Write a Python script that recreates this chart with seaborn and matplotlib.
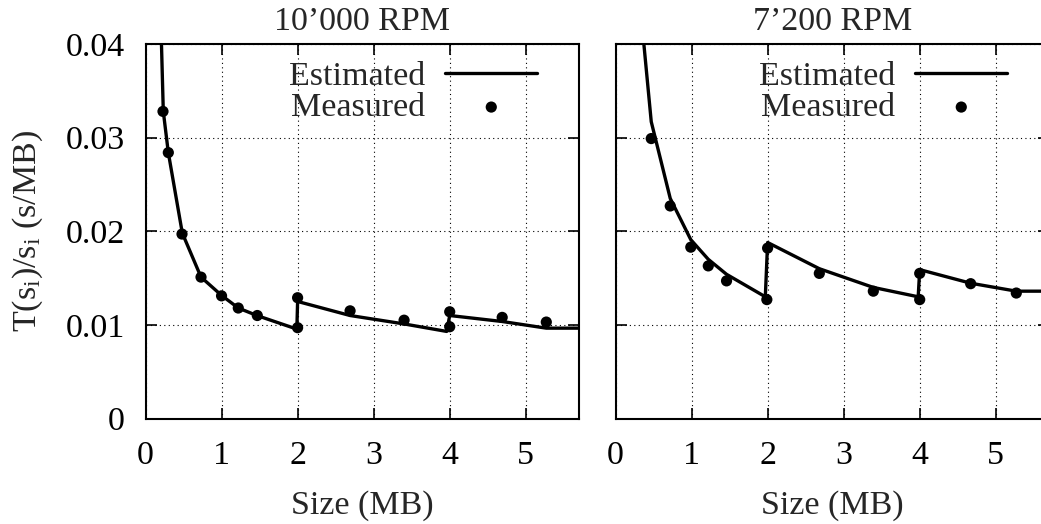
import pandas as pd
import seaborn as sns
import matplotlib.pyplot as plt

# Measured points (size in MB, time per MB)
meas_size_10k = [0.23, 0.30, 0.48, 0.73, 1.0, 1.22, 1.47, 2.0, 2.0, 2.69, 3.40, 4.0, 4.0, 4.69, 5.27]
meas_t_10k = [0.0328, 0.0284, 0.0197, 0.0151, 0.0131, 0.0118, 0.0110, 0.0097, 0.0129,
              0.0115, 0.0105, 0.0114, 0.0098, 0.0108, 0.0103]
est_size_10k = [0.15, 0.234, 0.30, 0.484, 0.73, 1.0, 1.22, 1.465, 1.99, 2.0, 2.69, 3.40,
                3.96, 4.0, 4.69, 5.27, 5.7]
est_t_10k = [0.058, 0.0328, 0.0284, 0.0198, 0.0151, 0.01315, 0.0118, 0.0110, 0.00955, 0.0125,
             0.0110, 0.0101, 0.0093, 0.0110, 0.01036, 0.00965, 0.00965]

meas_size_7k = [0.47, 0.72, 0.99, 1.22, 1.46, 1.99, 2.0, 2.68, 3.39, 4.0, 4.0, 4.67, 5.27]
meas_t_7k = [0.0299, 0.0227, 0.0183, 0.0163, 0.0147, 0.0127, 0.0182, 0.0155, 0.0136,
             0.0155, 0.0127, 0.0144, 0.0134]
est_size_7k = [0.25, 0.47, 0.72, 0.99, 1.22, 1.46, 1.97, 2.0, 2.68, 3.39, 3.98, 4.0,
               4.67, 5.27, 5.7]
est_t_7k = [0.0505, 0.0317, 0.0235, 0.0191, 0.0170, 0.0154, 0.0130, 0.0188, 0.0160,
            0.0140, 0.0130, 0.0159, 0.01445, 0.0136, 0.0136]

titles = ["10\u2019000 RPM", "7\u2019200 RPM"]
FS = 24.5

sns.set_style("ticks")
plt.rcParams['font.family'] = ['Liberation Serif', 'DejaVu Serif']
plt.rcParams['mathtext.fontset'] = 'custom'
plt.rcParams['mathtext.rm'] = 'Liberation Serif'
plt.rcParams['mathtext.it'] = 'Liberation Serif:italic'
plt.rcParams['font.size'] = FS

fig = plt.figure(figsize=(10.41, 5.24), dpi=100)
ax1 = fig.add_axes([145.5 / 1041, 1 - 418.5 / 524, 433.5 / 1041, 374.5 / 524])
ax2 = fig.add_axes([615.5 / 1041, 1 - 418.5 / 524, 433.5 / 1041, 374.5 / 524])

panels = [
    (ax1, est_size_10k, est_t_10k, meas_size_10k, meas_t_10k),
    (ax2, est_size_7k, est_t_7k, meas_size_7k, meas_t_7k),
]

for i, (ax, ex, ey, mx, my) in enumerate(panels):
    est = pd.DataFrame({'Size': ex, 'T': ey})
    meas = pd.DataFrame({'Size': mx, 'T': my})
    sns.lineplot(data=est, x='Size', y='T', ax=ax, color='black', lw=2.4,
                 sort=False, estimator=None, label='Estimated')
    sns.scatterplot(data=meas, x='Size', y='T', ax=ax, color='black', s=65,
                    edgecolor='none', label='Measured', zorder=3)
    ax.set_xlim(0, 5.7)
    ax.set_ylim(0, 0.04)
    ax.set_xticks([0, 1, 2, 3, 4, 5])
    ax.set_yticks([0, 0.01, 0.02, 0.03, 0.04])
    ax.grid(True, color='black', linestyle=(0, (1, 3)), linewidth=0.8)
    ax.tick_params(direction='in', length=8, width=1.2, top=True, right=True,
                   labelsize=FS, colors='black')
    ax.tick_params(axis='x', pad=16)
    ax.tick_params(axis='y', pad=15)
    for sp in ax.spines.values():
        sp.set_linewidth(1.5)
        sp.set_color('black')
    ax.set_title(titles[i], fontsize=FS, pad=10)
    ax.set_xlabel('Size (MB)', fontsize=FS, labelpad=14)
    ax.legend(loc='upper right', frameon=False, markerfirst=False, fontsize=FS,
              handlelength=2.7, handletextpad=0.6, labelspacing=0.0,
              borderaxespad=0.0, bbox_to_anchor=(0.935, 0.99), markerscale=1.0)

ax1.yaxis.set_major_formatter(plt.FuncFormatter(lambda v, p: '0' if v == 0 else f'{v:.2f}'))
ax1.set_ylabel(r'T(s$_\mathrm{i}$)/s$_\mathrm{i}$ (s/MB)', fontsize=FS, labelpad=15)
ax2.set_ylabel('')
ax2.set_yticklabels([])

fig.savefig('out.png', dpi=100)
